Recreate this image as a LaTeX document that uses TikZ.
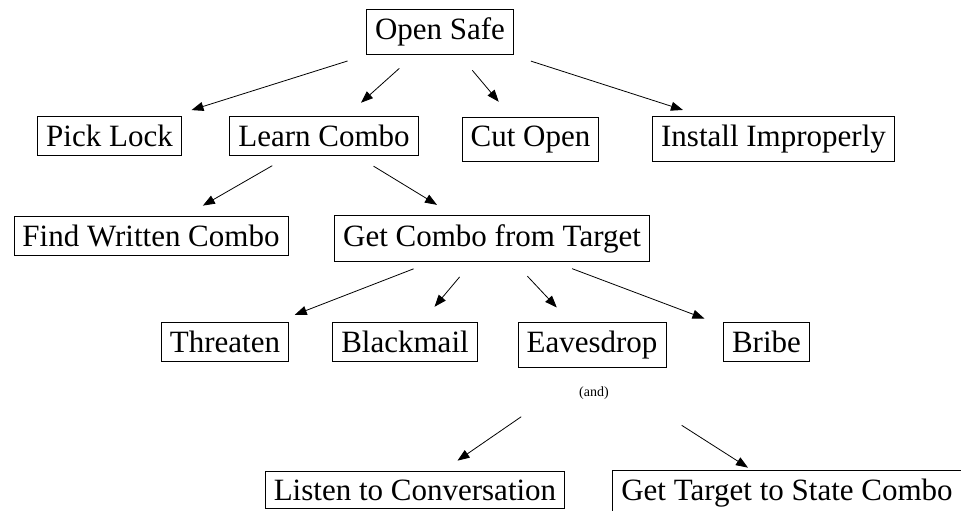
\documentclass[tikz,border=0pt]{standalone}
\usepackage{fontspec}
\setmainfont{Liberation Serif}
\usetikzlibrary{arrows.meta,calc}
\tikzset{
  box/.style={draw, line width=0.8pt, inner sep=8.5pt, anchor=base,
    font=\fontsize{31pt}{36pt}\selectfont},
  arr/.style={-{Triangle[length=12pt,width=9pt]}, line width=0.8pt,
    shorten <=20pt, shorten >=20pt},
  arrb/.style={-{Triangle[length=12pt,width=9pt]}, line width=0.8pt},
  note/.style={font=\fontsize{14pt}{16pt}\selectfont, inner sep=0pt}
}
\begin{document}
\begin{tikzpicture}[x=1pt,y=-1pt]
\useasboundingbox (0,0) rectangle (961,511);
\clip (0,0) rectangle (961,511);
\node[box] (os) at (440,39.5) {Open Safe};
\node[box] (pl) at (109.5,146.5) {Pick Lock};
\node[box] (lc) at (324,146.5) {Learn Combo};
\node[box] (co) at (530.5,146.5) {Cut Open};
\node[box] (ii) at (773.5,146.5) {Install Improperly};
\node[box] (fw) at (151,246) {Find Written Combo};
\node[box] (gc) at (492,246) {Get Combo from Target};
\node[box] (th) at (225,352.5) {Threaten};
\node[box] (bm) at (405,352.5) {Blackmail};
\node[box] (ev) at (592,352.5) {Eavesdrop};
\node[box] (br) at (766.5,352.5) {Bribe};
\node[note] (and) at (594,393) {(and)};
\node[box] (li) at (415,500) {Listen to Conversation};
\node[box] (gt) at (787,500) {Get Target to State Combo};
\draw[arr] (os) -- (pl);
\draw[arr] (os) -- (lc);
\draw[arr] (os) -- (co);
\draw[arr] (os) -- (ii);
\draw[arr] (lc) -- (fw);
\draw[arr] (lc) -- (gc);
\draw[arr] (gc) -- (th);
\draw[arr] (gc) -- (bm);
\draw[arr] (gc) -- (ev);
\draw[arr] (gc) -- (br);
\draw[arrb] ($(ev.south)!0.40!(li.center)$) -- ($(ev.south)!0.76!(li.center)$);
\draw[arrb] ($(ev.south)!0.46!(gt.center)$) -- ($(ev.south)!0.80!(gt.center)$);
\end{tikzpicture}
\end{document}
